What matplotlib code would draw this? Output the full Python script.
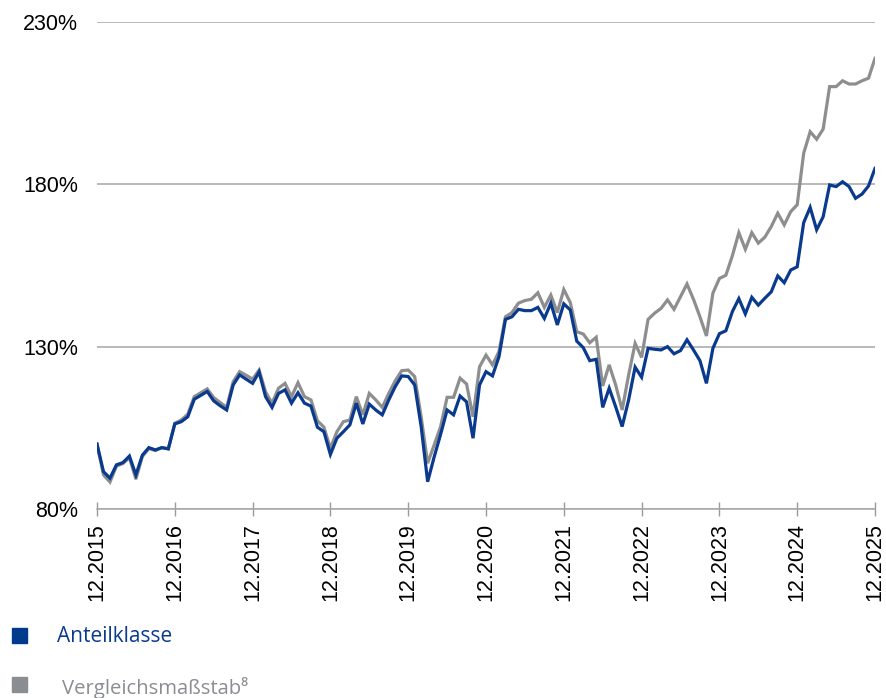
import numpy as np
import matplotlib
matplotlib.use('Agg')
import matplotlib.pyplot as plt

# monthly values, 12.2015 .. 12.2025 (indexed to 100)
anteilklasse = [
    100.0, 91.5, 89.5, 93.6, 94.3, 96.3, 90.5, 96.6, 98.9, 98.2, 98.9, 98.5,
    106.2, 106.9, 108.4, 113.8, 115.0, 116.2, 113.3, 111.8, 110.5, 118.2, 121.3, 120.0,
    118.7, 122.2, 114.6, 111.3, 115.6, 116.7, 112.6, 115.8, 112.6, 111.7, 105.2, 103.8,
    96.8, 101.8, 103.8, 105.9, 112.6, 106.2, 112.3, 110.5, 109.0, 113.6, 117.7, 121.0,
    120.8, 118.2, 105.4, 88.4, 96.0, 103.0, 110.5, 109.0, 114.8, 113.0, 101.8, 118.2,
    122.3, 121.0, 126.9, 138.4, 139.2, 141.5, 141.1, 141.1, 142.1, 138.7, 143.4, 136.7,
    143.2, 141.3, 131.7, 129.7, 125.7, 126.1, 111.3, 117.2, 111.5, 105.4, 113.6, 123.7,
    120.6, 129.5, 129.2, 129.0, 130.0, 127.8, 128.8, 132.1, 129.0, 125.7, 118.7, 129.5,
    134.0, 134.9, 140.8, 144.8, 140.1, 145.2, 142.8, 144.9, 146.9, 151.8, 149.7, 153.6,
    154.6, 168.2, 172.9, 166.0, 170.0, 179.8, 179.3, 180.8, 179.3, 175.7, 177.0, 179.5,
    184.9,
]
vergleich = [
    100.0, 90.5, 88.3, 93.2, 94.0, 95.8, 89.2, 96.2, 98.6, 98.0, 98.9, 98.6,
    106.4, 107.4, 109.2, 114.6, 115.8, 117.0, 114.3, 112.8, 111.3, 119.2, 122.3, 121.2,
    120.0, 122.8, 116.1, 112.6, 117.2, 118.7, 114.6, 118.9, 114.6, 113.6, 107.2, 105.2,
    98.7, 103.8, 106.9, 107.4, 114.6, 109.0, 115.6, 113.6, 111.3, 115.6, 119.5, 122.6,
    122.8, 120.8, 108.4, 94.1, 99.7, 105.4, 114.4, 114.4, 120.3, 118.5, 108.4, 123.8,
    127.4, 124.4, 128.5, 139.2, 140.5, 143.4, 144.2, 144.6, 146.6, 142.1, 145.9, 140.5,
    147.6, 143.6, 134.6, 133.9, 131.2, 132.9, 117.9, 124.4, 118.2, 110.5, 121.3, 131.0,
    126.7, 138.4, 140.3, 141.8, 144.4, 141.5, 145.4, 149.3, 144.6, 139.2, 133.3, 146.5,
    151.0, 152.0, 158.0, 165.1, 160.0, 165.1, 161.9, 163.7, 167.0, 171.1, 167.5, 171.6,
    173.7, 189.6, 196.2, 193.9, 197.0, 210.1, 210.1, 211.9, 210.9, 210.9, 211.9, 212.7,
    218.8,
]
years = list(range(2015, 2026))
tick_labels = ['12.%d' % y for y in years]
y_ticks = [80, 130, 180, 230]

blue = '#0a3a8e'
grey = '#8e8e8e'
W, H = 886, 698

fig = plt.figure(figsize=(W / 100, H / 100), dpi=100)
ax = fig.add_axes([97 / W, (H - 509) / H, (875 - 97) / W, (509 - 22) / H])

months = np.arange(len(anteilklasse))
ax.plot(months, vergleich, color=grey, lw=2.3, solid_joinstyle='miter', zorder=3)
ax.plot(months, anteilklasse, color=blue, lw=2.3, solid_joinstyle='miter', zorder=4)

ax.set_xlim(0, 120)
ax.set_ylim(80, 230)
ax.set_yticks(y_ticks)
ax.set_yticklabels(['%d%%' % v for v in y_ticks], fontfamily='Liberation Sans',
                   fontsize=15.5)
ax.set_xticks(np.arange(0, 121, 12))
ax.set_xticklabels(tick_labels, rotation=90, fontfamily='Liberation Sans',
                   fontsize=15.5)
ax.tick_params(axis='y', length=0, pad=13.7)
ax.tick_params(axis='x', direction='inout', length=10, width=1, color='#9a9a9a',
               pad=5)
ax.grid(axis='y', color='#a6a6a6', lw=1.1)
for side in ['left', 'right', 'top']:
    ax.spines[side].set_visible(False)
ax.spines['bottom'].set_color('#a6a6a6')
ax.spines['bottom'].set_linewidth(1.1)

# legend
fig.patches.append(plt.Rectangle((12 / W, (H - 643) / H), 15 / W, 15 / H,
                                 color='#003a8c', transform=fig.transFigure))
fig.text(57 / W, (H - 637) / H, 'Anteilklasse', color='#0a3a8e', fontsize=15,
         fontfamily='Open Sans', va='center')
fig.patches.append(plt.Rectangle((12 / W, (H - 692) / H), 15 / W, 15 / H,
                                 color='#8a8d91', transform=fig.transFigure))
fig.text(62 / W, (H - 688) / H, 'Vergleichsmaßstab\u2078', color='#8a8d91',
         fontsize=14.6, fontfamily=['Open Sans', 'DejaVu Sans'], va='center')

fig.savefig('out.png', dpi=100)
